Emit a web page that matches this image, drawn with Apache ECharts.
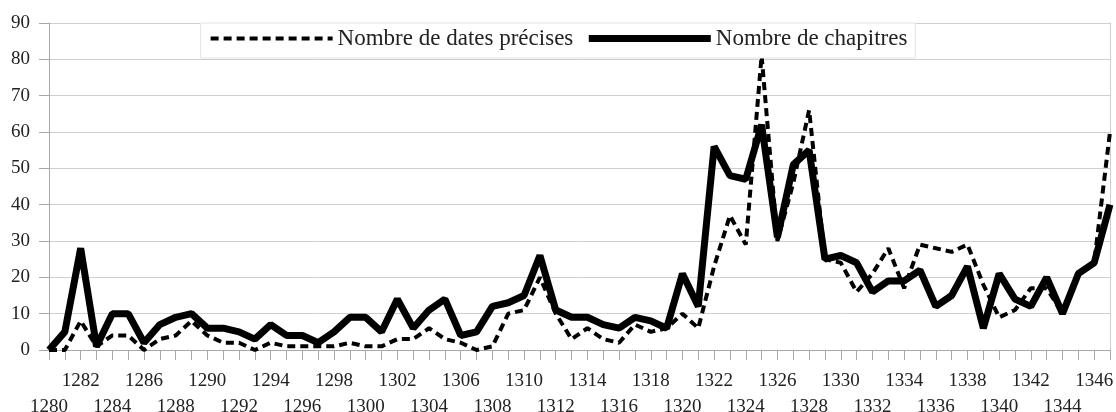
<!DOCTYPE html>
<html>
<head>
<meta charset="utf-8">
<script src="https://cdn.jsdelivr.net/npm/echarts@6/dist/echarts.min.js"></script>
<style>
  html, body { margin: 0; padding: 0; background: #fff; }
  #chart { width: 1116px; height: 412px; }
</style>
</head>
<body>
<div id="chart"></div>
<script>
// années 1280 -> 1347
const years = [];
for (let y = 1280; y <= 1347; y++) years.push(String(y));

const datesPrecises = [
  0, 0, 8, 1, 4, 4, 0, 3, 4, 8,
  4, 2, 2, 0, 2, 1, 1, 1, 1, 2,
  1, 1, 3, 3, 6, 3, 2, 0, 1, 10,
  11, 20, 10, 3, 6, 3, 2, 7, 5, 6,
  10, 6, 23, 37, 29, 81, 30, 46, 66, 25,
  24, 16, 21, 28, 17, 29, 28, 27, 29, 18,
  9, 11, 17, 17, 10, 21, 24, 60
];

const chapitres = [
  0, 5, 28, 1, 10, 10, 2, 7, 9, 10,
  6, 6, 5, 3, 7, 4, 4, 2, 5, 9,
  9, 5, 14, 6, 11, 14, 4, 5, 12, 13,
  15, 26, 11, 9, 9, 7, 6, 9, 8, 6,
  21, 12, 56, 48, 47, 62, 31, 51, 55, 25,
  26, 24, 16, 19, 19, 22, 12, 15, 23, 6,
  21, 14, 12, 20, 10, 21, 24, 40
];

const fontFamily = "'Liberation Serif', 'DejaVu Serif', serif";
const gridColor = '#cfcfcf';
const axisColor = '#a8a8a8';

const chart = echarts.init(document.getElementById('chart'));

chart.setOption({
  animation: false,
  textStyle: { fontFamily: fontFamily },
  grid: { left: 49, right: 6, top: 23, bottom: 62, outerBoundsMode: 'none' },
  legend: {
    top: 23,
    left: 'center',
    itemWidth: 122,
    itemHeight: 8,
    itemGap: 12,
    padding: [4, 8, 8, 8],
    backgroundColor: '#fff',
    borderColor: '#e4e4e4',
    borderWidth: 1,
    itemStyle: { opacity: 0 },
    lineStyle: { width: 'inherit', type: 'inherit' },
    textStyle: { fontFamily: fontFamily, fontSize: 23, color: '#222' },
    data: ['Nombre de dates précises', 'Nombre de chapitres']
  },
  xAxis: {
    type: 'category',
    data: years,
    boundaryGap: false,
    axisLine: { lineStyle: { color: axisColor } },
    axisTick: { interval: 0, length: 10, lineStyle: { color: axisColor } },
    axisLabel: {
      interval: 0,
      showMinLabel: true,
      showMaxLabel: true,
      formatter: function (value, index) {
        if (index % 2 === 1) return '';
        return index % 4 === 0 ? '\n' + value : value;
      },
      margin: 18,
      lineHeight: 26,
      fontSize: 19,
      color: '#222',
      fontFamily: fontFamily
    },
    splitLine: { show: false }
  },
  yAxis: [
    {
      type: 'value',
      min: 0,
      max: 90,
      interval: 10,
      axisLine: { show: true, lineStyle: { color: axisColor } },
      axisTick: { show: true, length: 10, lineStyle: { color: axisColor } },
      axisLabel: { margin: 19, fontSize: 19, color: '#222', fontFamily: fontFamily },
      splitLine: { lineStyle: { color: gridColor } }
    },
    {
      type: 'value',
      position: 'right',
      min: 0,
      max: 90,
      interval: 10,
      axisLine: { show: true, lineStyle: { color: gridColor } },
      axisTick: { show: false },
      axisLabel: { show: false },
      splitLine: { show: false }
    }
  ],
  series: [
    {
      name: 'Nombre de dates précises',
      type: 'line',
      data: datesPrecises,
      showSymbol: false,
      symbol: 'none',
      lineStyle: { color: '#000', width: 4, type: [8, 5] },
      itemStyle: { color: '#000' }
    },
    {
      name: 'Nombre de chapitres',
      type: 'line',
      data: chapitres,
      showSymbol: false,
      symbol: 'none',
      lineStyle: { color: '#000', width: 7 },
      itemStyle: { color: '#000' }
    }
  ]
});
</script>
</body>
</html>
